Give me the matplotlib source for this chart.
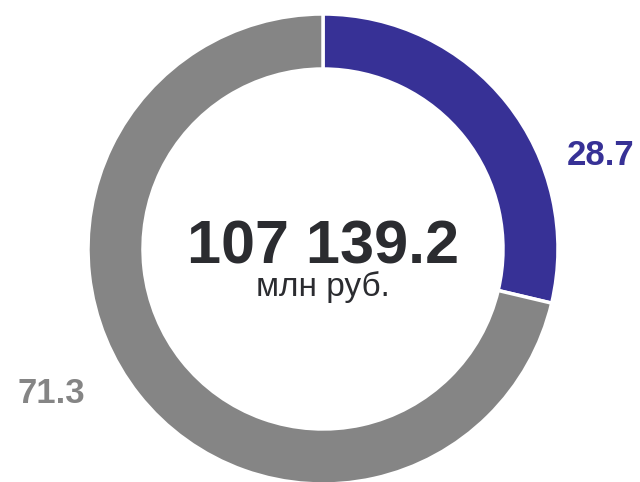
import matplotlib
matplotlib.use("Agg")
import matplotlib.pyplot as plt

# shares, percent
labels = ["28.7", "71.3"]
shares = [28.7, 71.3]
colors = ["#373196", "#858585"]
total_text = "107 139.2"
unit_text = "млн руб."

plt.rcParams["font.family"] = ["Liberation Sans", "DejaVu Sans"]

W, H = 640, 482
fig = plt.figure(figsize=(W / 100, H / 100), dpi=100)
ax = fig.add_axes([0, 0, 1, 1])

cx, cy = 323, H - 249      # donut centre, pixel units with y up
r_out, ring = 235, 55

ax.pie(shares, colors=colors, startangle=90, counterclock=False,
       center=(cx, cy), radius=r_out,
       wedgeprops=dict(width=ring, edgecolor="white", linewidth=2.5))

ax.set_xlim(0, W)
ax.set_ylim(0, H)
ax.set_aspect("equal")
ax.axis("off")

ax.text(cx, H - 263, total_text, ha="center", va="baseline",
        fontsize=44, fontweight="bold", color="#2b2c30")
ax.text(cx, H - 296, unit_text, ha="center", va="baseline",
        fontsize=24, color="#2b2c30")

# value labels outside the ring
ax.text(601, H - 165, labels[0], ha="center", va="baseline",
        fontsize=25, fontweight="bold", color=colors[0])
ax.text(51, H - 403, labels[1], ha="center", va="baseline",
        fontsize=25, fontweight="bold", color=colors[1])

fig.savefig("out.png", dpi=100)
